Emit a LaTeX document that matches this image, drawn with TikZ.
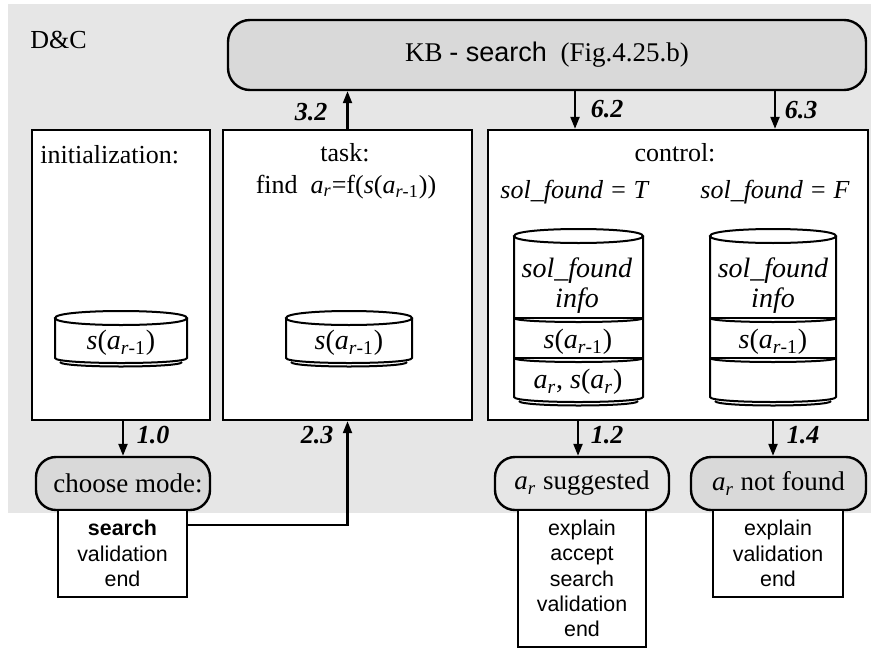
\documentclass[tikz,border=0pt]{standalone}
\usepackage{fontspec}
\setmainfont{Liberation Serif}
\setsansfont{Liberation Sans}
\usetikzlibrary{arrows.meta}
\definecolor{panel}{HTML}{E6E6E6}
\definecolor{pillgray}{HTML}{D9D9D9}

% s(a_{r-1}) and a_r
\newcommand{\sprev}{\textit{s}(\textit{a}\textsubscript{\textit{r}-1})}
\newcommand{\asub}{\textit{a}\textsubscript{\textit{r}}}

% drum (database) outline: #1 left x, #2 right x, #3 top ellipse centre y, #4 bottom y
\newcommand{\drumbody}[4]{%
  \draw[drumline] (#1,#3) .. controls (#1,#3-9.33) and (#2,#3-9.33) .. (#2,#3)
                          .. controls (#2,#3+9.33) and (#1,#3+9.33) .. cycle;
  \draw[drumline] (#1,#3) -- (#1,#4) .. controls (#1,#4+6.67) and (#2,#4+6.67) .. (#2,#4) -- (#2,#3);
  \draw[drumline] (#1+5,#4+4) .. controls (#1+5,#4+10) and (#2-5,#4+10) .. (#2-5,#4+4);
}
% separation between two drum sections: #1 left x, #2 right x, #3 y
\newcommand{\drumcut}[3]{%
  \draw[drumline] (#1,#3) -- (#2,#3);
  \draw[drumline] (#1,#3) .. controls (#1,#3+5.33) and (#2,#3+5.33) .. (#2,#3);
}

\begin{document}
\begin{tikzpicture}[x=0.5pt,y=-0.5pt,
  box/.style={draw, line width=1.2pt, fill=white, inner sep=0pt},
  pillbox/.style={draw, line width=1.2pt, rounded corners=10pt, inner sep=0pt,
                  font=\fontsize{13.5}{16}\selectfont},
  flow/.style={line width=1.1pt, -{Triangle[length=6pt,width=4.5pt]}},
  num/.style={font=\fontsize{13}{15}\selectfont\bfseries\itshape, inner sep=0pt},
  txt/.style={font=\fontsize{13}{15}\selectfont, inner sep=0pt},
  drumtxt/.style={font=\fontsize{14}{16}\selectfont, inner sep=0pt},
  menu/.style={box, font=\fontsize{10.7}{12.7}\selectfont\sffamily, align=center},
  drumline/.style={line width=1pt},
]
\useasboundingbox (0,0) rectangle (871,648);

% shaded D&C panel
\fill[panel] (8,4) rectangle (871,513);
\node[txt, anchor=west] (dc) at (30,40) {D\&C};

% knowledge base search
\node[pillbox, fill=pillgray, rounded corners=11pt, minimum width=319pt, minimum height=35pt]
  (kb) at (547,55) {\raisebox{2.5pt}{KB \textsf{- search}~~(Fig.4.25.b)}};

% three stages
\node[box, minimum width=89pt, minimum height=145pt] (init) at (121,275) {};
\node[box, minimum width=124.5pt, minimum height=145pt] (task) at (347.5,275) {};
\node[box, minimum width=190pt, minimum height=145pt] (ctl) at (678,275) {};

\node[txt, anchor=west] (inittitle) at (40,155) {initialization:};
\node[txt] (tasktitle) at (345,153) {task:};
\node[txt] (taskgoal) at (346,187) {find~~\asub=f(\sprev)};
\node[txt] (ctltitle) at (675,153) {control:};
\node[txt] (condT) at (575,192) {\textit{sol\_found = T}};
\node[txt] (condF) at (775,192) {\textit{sol\_found = F}};

% data stores
\drumbody{55}{187}{318}{358}
\node[drumtxt] (initdata) at (121,343) {\sprev};
\drumbody{286}{412}{318}{358}
\node[drumtxt] (taskdata) at (349,343) {\sprev};

\drumbody{514}{643}{236}{397}
\drumcut{514}{643}{318}
\drumcut{514}{643}{358}
\node[drumtxt, align=center] (tinfo) at (577,286) {\textit{sol\_found}\\[-1pt]\textit{info}};
\node[drumtxt] (tprev) at (578,342) {\sprev};
\node[drumtxt] (tnew) at (578,382) {\asub, \textit{s}(\asub)};

\drumbody{710}{836}{236}{397}
\drumcut{710}{836}{318}
\drumcut{710}{836}{358}
\node[drumtxt, align=center] (finfo) at (773,286) {\textit{sol\_found}\\[-1pt]\textit{info}};
\node[drumtxt] (fprev) at (773,342) {\sprev};

% outcomes
\node[pillbox, fill=pillgray, minimum width=87pt, minimum height=26.5pt] (mode) at (123,483.5) {\hspace{5pt}choose mode:};
\node[pillbox, fill=panel, minimum width=87pt, minimum height=26.5pt] (sugg) at (582,483.5) {\asub{} suggested};
\node[pillbox, fill=pillgray, minimum width=87.5pt, minimum height=26.5pt] (notf) at (778.5,483.5) {\asub{} not found};

\node[menu, minimum width=64.5pt, minimum height=43.5pt] (modemenu) at (122.5,553.5)
  {\textbf{search}\\validation\\end};
\node[menu, minimum width=64pt, minimum height=68.5pt] (suggmenu) at (582,578.5)
  {explain\\accept\\search\\validation\\end};
\node[menu, minimum width=65pt, minimum height=43.5pt] (notfmenu) at (778,553.5)
  {explain\\validation\\end};

% connectors
\coordinate (x62) at (575,0);
\coordinate (x63) at (775,0);
\coordinate (x12) at (578,0);
\coordinate (x14) at (773,0);
\draw[flow] (task.north) -- (task.north |- kb.south);
\draw[flow] (kb.south -| x62) -- (ctl.north -| x62);
\draw[flow] (kb.south -| x63) -- (ctl.north -| x63);
\draw[flow] (init.south -| mode.north) -- (mode.north);
\draw[flow] ([yshift=-8pt]modemenu.north east) -| (task.south);
\draw[flow] (ctl.south -| x12) -- (sugg.north -| x12);
\draw[flow] (ctl.south -| x14) -- (notf.north -| x14);

\node[num] (n32) at (311,112) {3.2};
\node[num] (n62) at (607,109) {6.2};
\node[num] (n63) at (801,110) {6.3};
\node[num] (n10) at (153,435) {1.0};
\node[num] (n23) at (317,435) {2.3};
\node[num] (n12) at (607,435) {1.2};
\node[num] (n14) at (803,435) {1.4};
\end{tikzpicture}
\end{document}
